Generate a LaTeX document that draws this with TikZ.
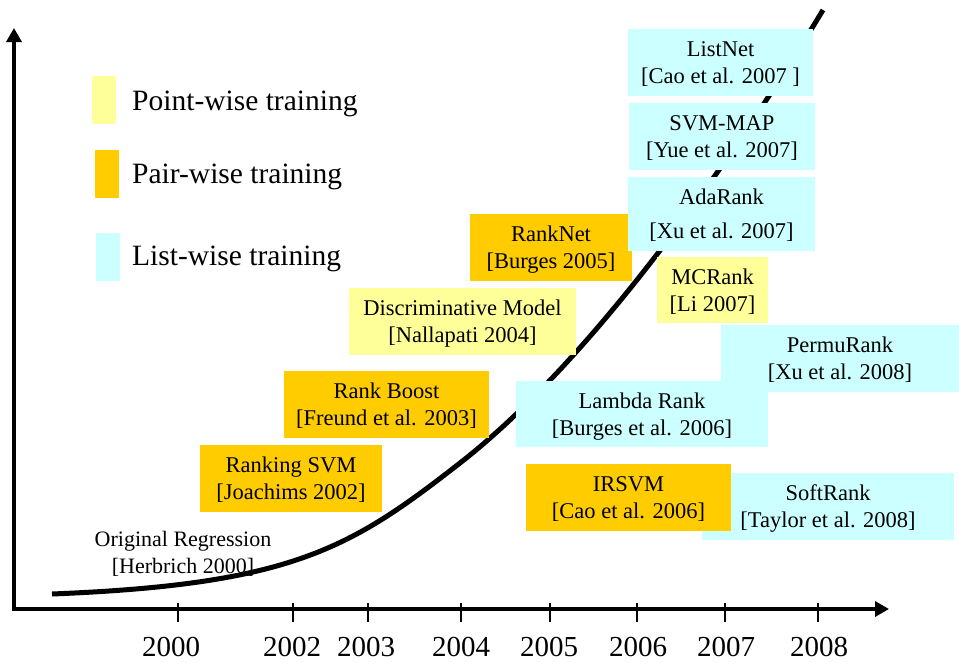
\documentclass[tikz,border=0pt]{standalone}
\usepackage{fontspec}
\setmainfont{Liberation Serif}
\usetikzlibrary{arrows.meta}

\definecolor{pointcol}{HTML}{FFFF99}
\definecolor{paircol}{HTML}{FFCC00}
\definecolor{listcol}{HTML}{CCFFFF}

\tikzset{
  axis/.style={line width=4.5pt, -{Triangle[length=14pt,width=15pt]}},
  tick/.style={line width=1.5pt},
  trend/.style={line width=5pt},
  method/.style={inner sep=0pt, align=center, minimum height=67pt, text depth=0pt,
    font=\fontsize{22.5}{27}\selectfont},
  pointwise/.style={method, fill=pointcol},
  pairwise/.style={method, fill=paircol},
  listwise/.style={method, fill=listcol},
  legend/.style={inner sep=0pt, anchor=base west, font=\fontsize{29.5}{34}\selectfont},
  year/.style={inner sep=0pt, anchor=base, font=\fontsize{29}{34}\selectfont}
}

\begin{document}
\begin{tikzpicture}[x=1pt,y=-1pt]
\useasboundingbox (0,0) rectangle (959,662);

% axes
\coordinate (origin) at (14,609);
\coordinate (ytop) at (14,28);
\coordinate (xend) at (889,609);
\draw[axis] ([yshift=-2.2pt]origin) -- (ytop);
\draw[axis] ([xshift=-2.2pt]origin) -- (xend);

\foreach \t/\l/\yr in {178/171/2000, 293/292/2002, 368/366/2003, 461/461/2004,
                      550/549/2005, 637/638/2006, 725/726/2007, 818/819/2008} {
  \draw[tick] (\t,603) -- (\t,622);
  \node[year] (y\yr) at (\l,656) {\yr};
}

% growth curve
\draw[trend] (52,594) .. controls (292,584.4) and (350,548.8) .. (460,463)
  .. controls (580,369.4) and (713,191.5) .. (823,10);

\node[inner sep=0pt, align=center, text depth=0pt, font=\fontsize{22}{27}\selectfont] (orig)
  at (183,552) {Original Regression\\ {[Herbrich 2000]}};

% legend
\node[pointwise, minimum width=24pt, minimum height=48pt] (pwbox) at (104,100) {};
\node[pairwise, minimum width=24pt, minimum height=48pt] (prbox) at (107,174) {};
\node[listwise, minimum width=24pt, minimum height=48pt] (lwbox) at (108,257) {};
\node[legend] (pwtext) at (132,110) {Point-wise training};
\node[legend] (prtext) at (132,183) {Pair-wise training};
\node[legend] (lwtext) at (132,265) {List-wise training};

% methods
\node[pairwise, minimum width=182pt] (rsvm) at (291,478.5) {Ranking SVM\\ {[Joachims 2002]}};
\node[pairwise, minimum width=205pt] (rboost) at (386.5,404.5) {Rank Boost\\ {[Freund et al. 2003]}};
\node[pointwise, minimum width=227pt] (discr) at (462.5,321.5) {Discriminative Model\\ {[Nallapati 2004]}};
\node[pairwise, minimum width=162pt] (ranknet) at (551,247.5) {RankNet\\ {[Burges 2005]}};
\node[listwise, minimum width=187pt, minimum height=74pt] (adarank) at (721.5,214) {AdaRank\\[7pt] {[Xu et al. 2007]}};
\node[listwise, minimum width=186pt] (svmmap) at (722,136.5) {SVM-MAP\\ {[Yue et al. 2007]}};
\node[listwise, minimum width=185pt] (listnet) at (720.5,62.5) {ListNet\\ {[Cao et al. 2007 ]}};
\node[pointwise, minimum width=111pt, minimum height=66pt] (mcrank) at (712.5,290) {MCRank\\ {[Li 2007]}};
\node[listwise, minimum width=238pt] (permurank) at (840,358.5) {PermuRank\\ {[Xu et al. 2008]}};
\node[listwise, minimum width=252pt, minimum height=66pt] (lambda) at (642,414) {Lambda Rank\\ {[Burges et al. 2006]}};
\node[listwise, minimum width=252pt] (softrank) at (828,506.5) {SoftRank\\ {[Taylor et al. 2008]}};
\node[pairwise, minimum width=205pt] (irsvm) at (628.5,497.5) {IRSVM\\ {[Cao et al. 2006]}};

\end{tikzpicture}
\end{document}
